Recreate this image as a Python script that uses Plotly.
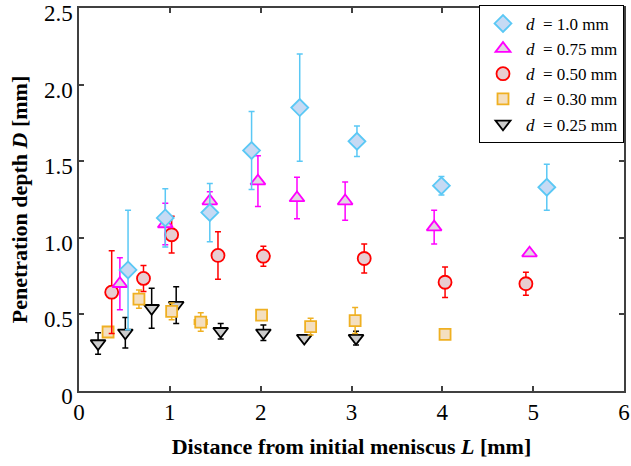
import plotly.graph_objects as go

# d = 1.0 mm
x_10 = [0.54, 0.95, 1.44, 1.90, 2.43, 3.06, 3.99, 5.15]
y_10 = [0.79, 1.13, 1.165, 1.57, 1.85, 1.63, 1.34, 1.33]
e_10 = [0.39, 0.19, 0.19, 0.255, 0.35, 0.10, 0.06, 0.15]

# d = 0.75 mm
x_075 = [0.45, 0.95, 1.44, 1.97, 2.40, 2.93, 3.91, 4.96]
y_075 = [0.70, 1.09, 1.24, 1.37, 1.26, 1.24, 1.07, 0.90]
e_075 = [0.17, 0.135, 0.06, 0.165, 0.135, 0.125, 0.11, 0.0]

# d = 0.50 mm
x_050 = [0.36, 0.71, 1.02, 1.53, 2.03, 3.14, 4.03, 4.92]
y_050 = [0.645, 0.735, 1.02, 0.885, 0.88, 0.865, 0.71, 0.70]
e_050 = [0.27, 0.085, 0.12, 0.155, 0.065, 0.095, 0.10, 0.075]

# d = 0.30 mm
x_030 = [0.32, 0.66, 1.02, 1.34, 2.01, 2.55, 3.04, 4.03]
y_030 = [0.385, 0.60, 0.52, 0.45, 0.495, 0.42, 0.46, 0.37]
e_030 = [0.0, 0.06, 0.055, 0.06, 0.0, 0.055, 0.085, 0.0]
ex_030 = [0.0, 0.0, 0.0, 0.07, 0.0, 0.0, 0.0, 0.0]

# d = 0.25 mm
x_025 = [0.21, 0.51, 0.80, 1.07, 1.56, 2.03, 2.48, 3.05]
y_025 = [0.31, 0.38, 0.54, 0.56, 0.39, 0.38, 0.345, 0.345]
e_025 = [0.07, 0.10, 0.13, 0.12, 0.05, 0.05, 0.02, 0.045]

y_ticks = [0, 0.5, 1.0, 1.5, 2.0, 2.5]
y_ticktext = ["0", "0.5", "1.0", "1.5", "2.0", "2.5"]
x_ticks = [0, 1, 2, 3, 4, 5, 6]

FONT = "Liberation Serif"

series = [
    ("<i>d</i>  = 0.25 mm", x_025, y_025, e_025, None, "triangle-down", 13, "#000000", "#cccccc"),
    ("<i>d</i>  = 0.30 mm", x_030, y_030, e_030, ex_030, "square", 11, "#efb022", "#f4dfc0"),
    ("<i>d</i>  = 0.50 mm", x_050, y_050, e_050, None, "circle", 13, "#ff0000", "#e8cdd1"),
    ("<i>d</i>  = 0.75 mm", x_075, y_075, e_075, None, "triangle-up", 13, "#ff00ff", "#e1d7e1"),
    ("<i>d</i>  = 1.0 mm", x_10, y_10, e_10, None, "diamond", 13, "#5ac8f5", "#c6daf4"),
]

fig = go.Figure()
for name, xs, ys, es, exs, sym, size, lc, fc in series:
    kw = {}
    if exs is not None:
        kw["error_x"] = dict(type="data", array=exs, visible=True, color=lc, thickness=1.5, width=3)
    fig.add_trace(go.Scatter(
        x=xs, y=ys, mode="markers", name=name, cliponaxis=False,
        marker=dict(symbol=sym, size=size, color=fc, line=dict(color=lc, width=1.8)),
        error_y=dict(type="data", array=es, visible=True, color=lc, thickness=1.5, width=3),
        **kw,
    ))

axis_common = dict(
    showline=True, linecolor="#404040", linewidth=1.5, mirror="ticks",
    ticks="inside", ticklen=5, tickwidth=1.5, tickcolor="#404040",
    showgrid=False, zeroline=False, automargin=False,
    ticklabeloverflow="allow",
    tickfont=dict(family=FONT, size=23, color="#000000"),
)

fig.update_layout(
    width=631, height=466,
    margin=dict(l=79, r=7, t=8, b=75, autoexpand=False),
    paper_bgcolor="white", plot_bgcolor="white",
    font=dict(family=FONT, color="#000000"),
    showlegend=True,
    legend=dict(
        x=1.0, xanchor="right", y=1.008, yanchor="top",
        bordercolor="#000000", borderwidth=1, bgcolor="white",
        font=dict(family=FONT, size=17, color="#000000"),
        traceorder="reversed", tracegroupgap=0, itemwidth=36,
    ),
    xaxis=dict(
        range=[0, 6], tickvals=x_ticks,
        title=dict(text="<b>Distance from initial meniscus <i>L</i> [mm]</b>",
                   font=dict(family=FONT, size=22), standoff=14),
        **axis_common,
    ),
    yaxis=dict(
        range=[0, 2.5], tickvals=y_ticks, ticktext=y_ticktext,
        ticklabelshift=5,
        title=dict(text="<b>Penetration depth <i>D</i> [mm]</b>",
                   font=dict(family=FONT, size=22), standoff=10),
        **axis_common,
    ),
)

fig.write_html(
    "out.html",
    config={"displayModeBar": False},
    post_script="document.body.style.margin='0';document.body.style.overflow='hidden';",
)
